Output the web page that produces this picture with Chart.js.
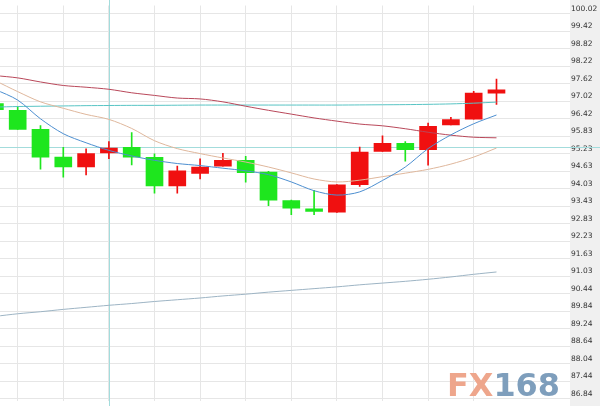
<!DOCTYPE html>
<html>
<head>
<meta charset="utf-8">
<script src="https://cdn.jsdelivr.net/npm/chart.js@4.4.1/dist/chart.umd.min.js"></script>
<style>
  html, body { margin: 0; padding: 0; background: #fff; }
  #wrap { width: 600px; height: 406px; }
</style>
</head>
<body>
<div id="wrap"><canvas id="chart" width="600" height="406"></canvas></div>
<script>
// candle index (one per trading day)
const days = [0, 1, 2, 3, 4, 5, 6, 7, 8, 9, 10, 11, 12, 13, 14, 15, 16, 17, 18, 19, 20, 21, 22];

const opens  = [96.94, 96.71, 96.06, 95.11, 94.77, 95.25, 95.44, 95.10, 94.12, 94.55, 94.80, 95.00, 94.60, 93.62, 93.34, 93.23, 94.17, 95.30, 95.58, 95.36, 96.21, 96.41, 97.30];
const highs  = [96.97, 96.84, 96.19, 95.44, 95.39, 95.64, 95.95, 95.22, 94.80, 95.05, 95.24, 95.14, 94.62, 93.64, 93.97, 94.17, 95.45, 95.84, 95.64, 96.27, 96.47, 97.36, 97.78];
const lows   = [96.70, 96.06, 94.70, 94.42, 94.50, 95.06, 94.84, 93.88, 93.88, 94.36, 94.80, 94.25, 93.45, 93.14, 93.14, 93.22, 94.11, 95.30, 94.97, 94.83, 96.21, 96.41, 96.91];
const closes = [96.73, 96.06, 95.11, 94.77, 95.23, 95.42, 95.11, 94.12, 94.64, 94.77, 95.00, 94.58, 93.64, 93.36, 93.25, 94.16, 95.28, 95.58, 95.36, 96.16, 96.39, 97.30, 97.41];

// moving averages
const maShort = [97.43, 97.06, 96.42, 95.91, 95.60, 95.34, 95.15, 95.00, 94.89, 94.82, 94.73, 94.64, 94.51, 94.26, 93.96, 93.81, 93.92, 94.31, 94.77, 95.40, 95.87, 96.25, 96.55];
const maMid   = [97.73, 97.35, 97.00, 96.78, 96.57, 96.40, 96.09, 95.67, 95.40, 95.23, 95.08, 94.94, 94.77, 94.57, 94.36, 94.26, 94.32, 94.44, 94.56, 94.69, 94.87, 95.11, 95.42];
const maLong  = [97.90, 97.82, 97.68, 97.56, 97.50, 97.43, 97.31, 97.22, 97.13, 97.10, 97.00, 96.85, 96.71, 96.58, 96.45, 96.34, 96.24, 96.18, 96.08, 95.96, 95.86, 95.79, 95.77];
const ma120   = [96.82, 96.84, 96.85, 96.86, 96.87, 96.875, 96.88, 96.88, 96.885, 96.89, 96.89, 96.89, 96.89, 96.89, 96.89, 96.89, 96.895, 96.90, 96.905, 96.915, 96.93, 96.955, 96.99];
const ma250   = [89.66, 89.75, 89.82, 89.90, 89.97, 90.04, 90.10, 90.17, 90.23, 90.29, 90.36, 90.42, 90.49, 90.55, 90.61, 90.67, 90.74, 90.80, 90.86, 90.93, 91.01, 91.10, 91.18];

// right axis labels and the vertical grid positions
const tickLabels = [100.02, 99.42, 98.82, 98.22, 97.62, 97.02, 96.42, 95.83, 95.23, 94.63, 94.03, 93.43,
                    92.83, 92.23, 91.63, 91.03, 90.44, 89.84, 89.24, 88.64, 88.04, 87.44, 86.84];
const gridDays = [1, 3, 5, 7, 9, 11, 13, 15, 17, 19, 21];

// crosshair
const crossDay = 5;
const crossPrice = 95.44;

const UP = '#f01010';
const DOWN = '#1ee61e';
const candleColors = days.map(i => closes[i] >= opens[i] ? UP : DOWN);

function line(data, color) {
    return {
        type: 'line',
        data: days.map(i => ({ x: i, y: data[i] })),
        borderColor: color,
        borderWidth: 1,
        pointRadius: 0,
        tension: 0.3,
        order: 0
    };
}

const chromePlugin = {
    id: 'chrome',
    beforeDraw(chart) {
        const ctx = chart.ctx;
        const y = chart.scales.y;
        ctx.save();
        ctx.fillStyle = '#fff';
        ctx.fillRect(0, 0, chart.width, chart.height);
        ctx.fillStyle = '#f0f0f0';
        ctx.fillRect(y.left, 0, chart.width - y.left, chart.height);
        ctx.restore();
    },
    beforeDatasetsDraw(chart) {
        const ctx = chart.ctx;
        const xs = chart.scales.x, ys = chart.scales.y;
        // watermark
        ctx.save();
        ctx.font = 'bold 32px "DejaVu Sans"';
        ctx.textBaseline = 'alphabetic';
        const wFX = ctx.measureText('FX').width;
        const w168 = ctx.measureText('168').width;
        const target = 113;
        const k = target / (wFX + w168);
        ctx.translate(447, 396);
        ctx.scale(k, 1);
        ctx.fillStyle = '#eea68c';
        ctx.fillText('FX', 0, 0);
        ctx.fillStyle = '#7e9ebc';
        ctx.fillText('168', wFX, 0);
        ctx.restore();

        // crosshair
        ctx.save();
        ctx.strokeStyle = '#a3dcdc';
        ctx.lineWidth = 1;
        const cx = Math.round(xs.getPixelForValue(crossDay)) + 0.5;
        const cy = Math.round(ys.getPixelForValue(crossPrice)) + 0.5;
        ctx.beginPath();
        ctx.moveTo(cx, 0); ctx.lineTo(cx, chart.height);
        ctx.moveTo(0, cy); ctx.lineTo(chart.width, cy);
        ctx.stroke();
        ctx.restore();
    }
};

new Chart(document.getElementById('chart'), {
    type: 'bar',
    data: {
        datasets: [
            line(maShort, '#4d8fd0'),
            line(maMid, '#dfb79c'),
            line(maLong, '#b9485a'),
            line(ma120, '#58c4c4'),
            line(ma250, '#9db4c4'),
            {
                type: 'bar',
                data: days.map(i => ({ x: i, y: [opens[i], closes[i]] })),
                backgroundColor: candleColors,
                borderWidth: 0,
                borderSkipped: false,
                barThickness: 17,
                grouped: false,
                order: 1
            },
            {
                type: 'bar',
                data: days.map(i => ({ x: i, y: [lows[i], highs[i]] })),
                backgroundColor: candleColors,
                borderWidth: 0,
                borderSkipped: false,
                barThickness: 1,
                grouped: false,
                order: 2
            }
        ]
    },
    options: {
        responsive: false,
        animation: false,
        layout: { padding: 0 },
        plugins: { legend: { display: false }, tooltip: { enabled: false } },
        scales: {
            x: {
                type: 'linear',
                offset: false,
                min: 0.224,
                max: 25.224,
                afterBuildTicks: s => { s.ticks = gridDays.map(v => ({ value: v })); },
                afterFit: s => { s.height = 0; },
                ticks: { display: false },
                grid: { color: '#e6e6e6', drawTicks: false, offset: false },
                border: { display: false }
            },
            y: {
                position: 'right',
                min: 86.783,
                max: 100.296,
                afterBuildTicks: s => { s.ticks = tickLabels.map(v => ({ value: v })); },
                afterFit: s => { s.width = 30; },
                ticks: {
                    color: '#333',
                    padding: 1,
                    labelOffset: -5,
                    font: { family: 'DejaVu Sans', size: 7.5 },
                    callback: v => v.toFixed(2)
                },
                grid: { color: '#e6e6e6', drawTicks: false },
                border: { display: false }
            }
        }
    },
    plugins: [chromePlugin]
});
</script>
</body>
</html>
